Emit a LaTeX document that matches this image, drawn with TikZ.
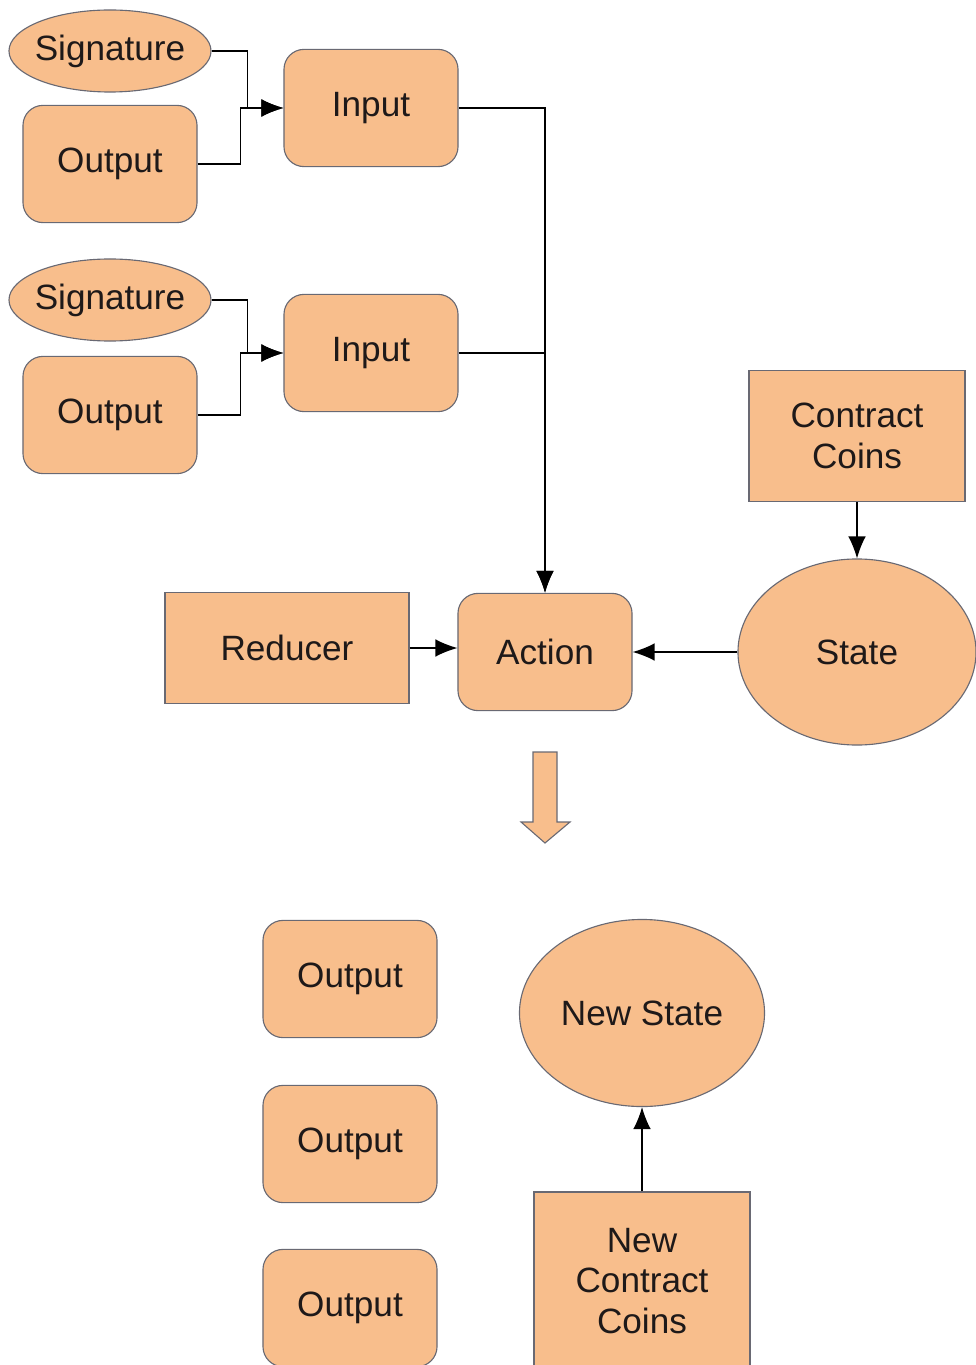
\documentclass[tikz,border=0pt]{standalone}
\usepackage{fontspec}
\setmainfont{Liberation Sans}
\usetikzlibrary{shapes.geometric,arrows.meta}
\definecolor{peach}{RGB}{248,190,140}
\definecolor{edgegrey}{RGB}{105,105,115}
\definecolor{inkdark}{RGB}{30,25,25}

\tikzset{
  block/.style={draw=edgegrey, fill=peach, line width=0.8pt, text=inkdark,
    font=\fontsize{25}{29}\selectfont, align=center, inner sep=0pt},
  roundbox/.style={block, rectangle, rounded corners=0.5cm, minimum width=4.35cm, minimum height=2.93cm},
  squarebox/.style={block, rectangle},
  oval/.style={block, ellipse, inner xsep=-5pt},
  link/.style={line width=0.9pt, -{Latex[length=5.5mm,width=4.4mm]}},
}

\begin{document}
\begin{tikzpicture}[x=0.025cm, y=-0.025cm]

    \useasboundingbox (0,0) rectangle (975,1365);

    % first input
    \node[oval, minimum width=5.05cm, minimum height=2.05cm] (sigA) at (110,51) {Signature};
    \node[roundbox] (outA) at (110,164) {Output};
    \node[roundbox] (inA) at (371,108) {Input};

    % second input
    \node[oval, minimum width=5.05cm, minimum height=2.05cm] (sigB) at (110,300) {Signature};
    \node[roundbox] (outB) at (110,415) {Output};
    \node[roundbox] (inB) at (371,353) {Input};

    % contract side
    \node[squarebox, minimum width=5.4cm, minimum height=3.275cm] (coins) at (857,436) {Contract\\Coins};
    \node[oval, minimum width=5.95cm, minimum height=4.65cm] (state) at (857,652) {State};
    \node[squarebox, minimum width=6.1cm, minimum height=2.775cm] (reducer) at (287,648) {Reducer};
    \node[roundbox] (action) at (545,652) {Action};

    % result
    \draw[draw=edgegrey, fill=peach, line width=0.8pt] (533,752) -- (557,752) -- (557,822) -- (570,822)
        -- (545,843) -- (521,822) -- (533,822) -- cycle;

    \node[roundbox] (resA) at (350,979) {Output};
    \node[roundbox] (resB) at (350,1144) {Output};
    \node[roundbox] (resC) at (350,1308) {Output};
    \node[oval, minimum width=6.125cm, minimum height=4.675cm] (newstate) at (642,1013) {New State};
    \node[squarebox, minimum width=5.4cm, minimum height=4.45cm] (newcoins) at (642,1281) {New\\Contract\\Coins};

    % connectors
    \draw[link] (sigA.east) -- ++(36,0) |- (inA.west);
    \draw[link] (outA.east) -- ++(43,0) |- (inA.west);
    \draw[link] (sigB.east) -- ++(36,0) |- (inB.west);
    \draw[link] (outB.east) -- ++(43,0) |- (inB.west);
    \draw[link] (inA.east) -| (action.north);
    \draw[link] (inB.east) -| (action.north);
    \draw[link] (reducer.east) -- (action.west |- reducer.east);
    \draw[link] (state.west) -- (action.east);
    \draw[link] (coins.south) -- (state.north);
    \draw[link] (newcoins.north) -- (newstate.south);

\end{tikzpicture}
\end{document}
